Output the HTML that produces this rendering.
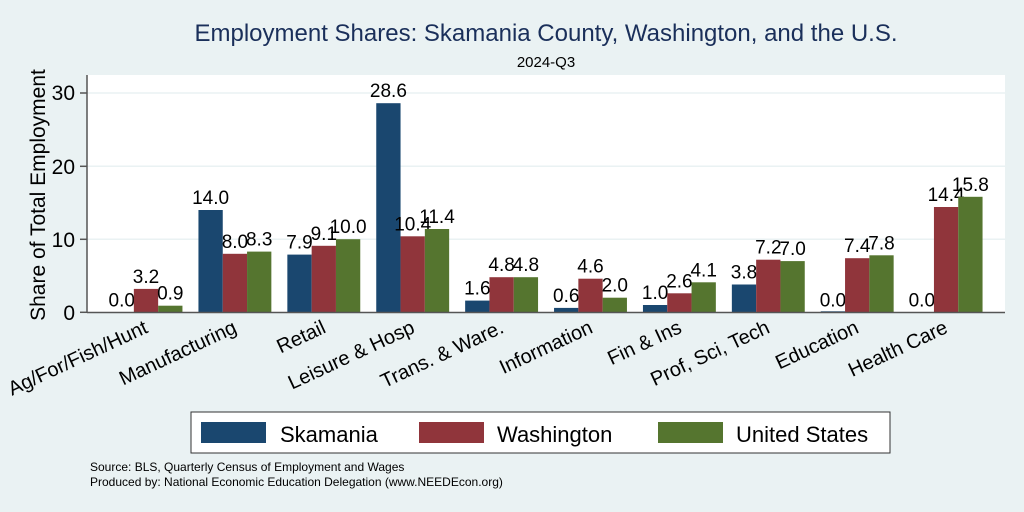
<!DOCTYPE html>
<html><head><meta charset="utf-8"><style>body{margin:0}svg{display:block}</style></head><body>
<svg width="1024" height="512" xmlns="http://www.w3.org/2000/svg" font-family="Liberation Sans, sans-serif">
<rect width="1024" height="512" fill="#eaf2f3"/>
<rect x="87" y="75" width="918" height="238" fill="#fff"/>
<g stroke="#eaf2f3" stroke-width="1.5">
<line x1="87" x2="1005" y1="93" y2="93"/><line x1="87" x2="1005" y1="166.3" y2="166.3"/><line x1="87" x2="1005" y1="239.3" y2="239.3"/>
</g>
<text x="546" y="41" text-anchor="middle" font-size="24" fill="#1a2f5a">Employment Shares: Skamania County, Washington, and the U.S.</text>
<text x="546" y="67" text-anchor="middle" font-size="15">2024-Q3</text>
<g font-size="21" text-anchor="end">
<text x="75" y="320">0</text><text x="75" y="247">10</text><text x="75" y="174">20</text><text x="75" y="100">30</text>
</g>
<g stroke="#555" stroke-width="1.5"><line x1="80" x2="87" y1="312.3" y2="312.3"/><line x1="80" x2="87" y1="239.3" y2="239.3"/><line x1="80" x2="87" y1="166.3" y2="166.3"/><line x1="80" x2="87" y1="93" y2="93"/></g>
<text transform="translate(45,195) rotate(-90)" text-anchor="middle" font-size="21">Share of Total Employment</text>

<g font-size="19" text-anchor="middle">
<g transform="translate(146,0)">
<text x="-24.3" y="306.3">0.0</text>
<rect x="-12.15" y="288.9" width="24.3" height="23.4" fill="#90353b"/><text x="0" y="282.9">3.2</text>
<rect x="12.15" y="305.7" width="24.3" height="6.6" fill="#55752f"/><text x="24.3" y="299.7">0.9</text>
</g>
<g transform="translate(234.9,0)">
<rect x="-36.45" y="210" width="24.3" height="102.3" fill="#1a476f"/><text x="-24.3" y="204">14.0</text>
<rect x="-12.15" y="253.8" width="24.3" height="58.5" fill="#90353b"/><text x="0" y="247.8">8.0</text>
<rect x="12.15" y="251.6" width="24.3" height="60.7" fill="#55752f"/><text x="24.3" y="245.6">8.3</text>
</g>
<g transform="translate(323.8,0)">
<rect x="-36.45" y="254.6" width="24.3" height="57.7" fill="#1a476f"/><text x="-24.3" y="248.6">7.9</text>
<rect x="-12.15" y="245.8" width="24.3" height="66.5" fill="#90353b"/><text x="0" y="239.8">9.1</text>
<rect x="12.15" y="239.2" width="24.3" height="73.1" fill="#55752f"/><text x="24.3" y="233.2">10.0</text>
</g>
<g transform="translate(412.7,0)">
<rect x="-36.45" y="103.2" width="24.3" height="209.1" fill="#1a476f"/><text x="-24.3" y="97.2">28.6</text>
<rect x="-12.15" y="236.3" width="24.3" height="76" fill="#90353b"/><text x="0" y="230.3">10.4</text>
<rect x="12.15" y="229" width="24.3" height="83.3" fill="#55752f"/><text x="24.3" y="223">11.4</text>
</g>
<g transform="translate(501.6,0)">
<rect x="-36.45" y="300.6" width="24.3" height="11.7" fill="#1a476f"/><text x="-24.3" y="294.6">1.6</text>
<rect x="-12.15" y="277.2" width="24.3" height="35.1" fill="#90353b"/><text x="0" y="271.2">4.8</text>
<rect x="12.15" y="277.2" width="24.3" height="35.1" fill="#55752f"/><text x="24.3" y="271.2">4.8</text>
</g>
<g transform="translate(590.5,0)">
<rect x="-36.45" y="307.9" width="24.3" height="4.4" fill="#1a476f"/><text x="-24.3" y="301.9">0.6</text>
<rect x="-12.15" y="278.7" width="24.3" height="33.6" fill="#90353b"/><text x="0" y="272.7">4.6</text>
<rect x="12.15" y="297.7" width="24.3" height="14.6" fill="#55752f"/><text x="24.3" y="291.7">2.0</text>
</g>
<g transform="translate(679.4,0)">
<rect x="-36.45" y="305" width="24.3" height="7.3" fill="#1a476f"/><text x="-24.3" y="299">1.0</text>
<rect x="-12.15" y="293.3" width="24.3" height="19" fill="#90353b"/><text x="0" y="287.3">2.6</text>
<rect x="12.15" y="282.3" width="24.3" height="30" fill="#55752f"/><text x="24.3" y="276.3">4.1</text>
</g>
<g transform="translate(768.3,0)">
<rect x="-36.45" y="284.5" width="24.3" height="27.8" fill="#1a476f"/><text x="-24.3" y="278.5">3.8</text>
<rect x="-12.15" y="259.7" width="24.3" height="52.6" fill="#90353b"/><text x="0" y="253.7">7.2</text>
<rect x="12.15" y="261.1" width="24.3" height="51.2" fill="#55752f"/><text x="24.3" y="255.1">7.0</text>
</g>
<g transform="translate(857.2,0)">
<rect x="-36.45" y="311.3" width="24.3" height="1" fill="#1a476f"/><text x="-24.3" y="306.3">0.0</text>
<rect x="-12.15" y="258.2" width="24.3" height="54.1" fill="#90353b"/><text x="0" y="252.2">7.4</text>
<rect x="12.15" y="255.3" width="24.3" height="57" fill="#55752f"/><text x="24.3" y="249.3">7.8</text>
</g>
<g transform="translate(946.1,0)">
<text x="-24.3" y="306.3">0.0</text>
<rect x="-12.15" y="207" width="24.3" height="105.3" fill="#90353b"/><text x="0" y="201">14.4</text>
<rect x="12.15" y="196.8" width="24.3" height="115.5" fill="#55752f"/><text x="24.3" y="190.8">15.8</text>
</g>
</g>

<g font-size="20" text-anchor="end">
<text transform="translate(149,332) rotate(-25)">Ag/For/Fish/Hunt</text>
<text transform="translate(238,332) rotate(-25)">Manufacturing</text>
<text transform="translate(327,332) rotate(-25)">Retail</text>
<text transform="translate(416,332) rotate(-25)">Leisure &amp; Hosp</text>
<text transform="translate(505,332) rotate(-25)">Trans. &amp; Ware.</text>
<text transform="translate(594,332) rotate(-25)">Information</text>
<text transform="translate(683,332) rotate(-25)">Fin &amp; Ins</text>
<text transform="translate(771,332) rotate(-25)">Prof, Sci, Tech</text>
<text transform="translate(860,332) rotate(-25)">Education</text>
<text transform="translate(949,332) rotate(-25)">Health Care</text>
</g>

<line x1="87" x2="87" y1="75" y2="313" stroke="#555" stroke-width="1.5"/>
<line x1="87" x2="1005" y1="312.5" y2="312.5" stroke="#555" stroke-width="1.5"/>
<rect x="191" y="412" width="699" height="41" fill="#fff" stroke="#333" stroke-width="1"/>
<rect x="201" y="422" width="65" height="21" fill="#1a476f"/><text x="280" y="442" font-size="22">Skamania</text>
<rect x="419" y="422" width="65" height="21" fill="#90353b"/><text x="497" y="442" font-size="22">Washington</text>
<rect x="658" y="422" width="65" height="21" fill="#55752f"/><text x="736" y="442" font-size="22">United States</text>
<text x="90" y="471" font-size="12">Source: BLS, Quarterly Census of Employment and Wages</text>
<text x="90" y="486" font-size="12">Produced by: National Economic Education Delegation (www.NEEDEcon.org)</text>
</svg>
</body></html>
